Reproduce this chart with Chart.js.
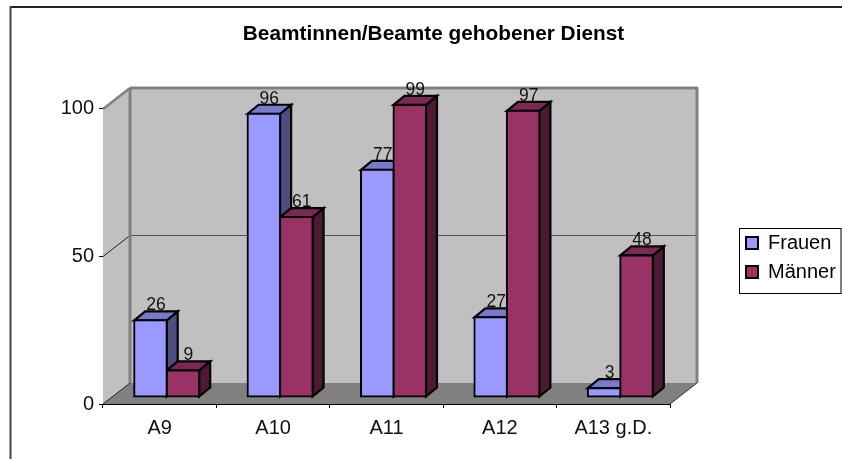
<!DOCTYPE html>
<html><head><meta charset="utf-8">
<style>html,body{margin:0;padding:0;background:#fff}#w{width:842px;height:459px;position:relative}</style>
<script src="https://cdn.jsdelivr.net/npm/chart.js@4"></script>
</head><body><div id="w"><canvas id="c" width="842" height="459"></canvas></div>
<script>
const categories = ['A9','A10','A11','A12','A13 g.D.'];
const frauen = [26,96,77,27,3];
const maenner = [9,61,99,97,48];
const yTicks = [0,50,100];
const chartTitle = 'Beamtinnen/Beamte gehobener Dienst';

const WALL_DX = 27, WALL_DY = 21;      // depth of the chart box
const BAR_SHIFT_X = 7, BAR_SHIFT_Y = -7; // bars stand inside the floor
const BAR_DX = 11, BAR_DY = 9;         // depth of each bar
const FONT = '"Liberation Sans", Arial, sans-serif';
const faces = {
  Frauen: {side:'#4D4D80', top:'#7A7ACC'},
  'Männer': {side:'#4D1A33', top:'#7A2952'}
};

function poly(ctx, pts, fill, stroke, lw){
  ctx.beginPath();
  pts.forEach((p,i)=> i ? ctx.lineTo(p[0],p[1]) : ctx.moveTo(p[0],p[1]));
  ctx.closePath();
  if(fill){ctx.fillStyle=fill;ctx.fill();}
  if(stroke){ctx.strokeStyle=stroke;ctx.lineWidth=lw;ctx.lineJoin='miter';ctx.stroke();}
}
function seg(ctx,x1,y1,x2,y2,c,lw){
  ctx.beginPath();ctx.moveTo(x1,y1);ctx.lineTo(x2,y2);ctx.strokeStyle=c;ctx.lineWidth=lw;ctx.stroke();
}

const box3d = {
  id:'box3d',
  afterLayout(chart){
    const lg = chart.legend;
    lg.left = 737; lg.right = 842; lg.top = 224; lg.bottom = 300;
    const t = chart.titleBlock;
    t.left = 25; t.right = 842;
  },
  beforeDatasetsDraw(chart){
    const ctx = chart.ctx, x = chart.scales.x, y = chart.scales.y;
    const L=x.left,R=x.right,T=y.getPixelForValue(100),B=y.getPixelForValue(0);
    const d=WALL_DX,e=WALL_DY;
    ctx.save();
    // frame
    seg(ctx,10.5,7,842,7,'#222',2);
    seg(ctx,10.5,6,10.5,459,'#444',2);
    // left wall, back wall, floor
    poly(ctx,[[L,T],[L+d,T-e],[L+d,B-e],[L,B]],'#C0C0C0');
    poly(ctx,[[L+d,T-e],[R+d,T-e],[R+d,B-e],[L+d,B-e]],'#C0C0C0');
    poly(ctx,[[L,B],[R,B],[R+d,B-e],[L+d,B-e]],'#808080');
    // grid lines
    y.ticks.forEach(tk=>{
      if(tk.value>0 && tk.value<100){
        const p=Math.round(y.getPixelForValue(tk.value))+0.5;
        seg(ctx,L,p,L+d,p-e,'#222',1);
        seg(ctx,L+d,p-e,R+d,p-e,'#555',1);
      }
    });
    // wall edges
    seg(ctx,L+d,T-e,L+d,B-e,'#808080',3);
    seg(ctx,R+d,T-e-1,R+d,B-e,'#808080',3);
    seg(ctx,L+d,T-e,R+d,T-e,'#808080',3);
    seg(ctx,L,T,L+d,T-e,'#808080',2.5);
    seg(ctx,L,B,L+d,B-e,'#222',1);
    seg(ctx,R,B,R+d,B-e,'#333',1);
    // side and top faces of every bar, behind all front faces
    ctx.translate(BAR_SHIFT_X,BAR_SHIFT_Y);
    chart.data.datasets.forEach((ds,i)=>{
      const f=faces[ds.label];
      chart.getDatasetMeta(i).data.forEach(b=>{
        const l=b.x-b.width/2, r=b.x+b.width/2;
        poly(ctx,[[r,b.y],[r+BAR_DX,b.y-BAR_DY],[r+BAR_DX,b.base-BAR_DY],[r,b.base]],f.side,'#000',2.2);
        poly(ctx,[[l,b.y],[l+BAR_DX,b.y-BAR_DY],[r+BAR_DX,b.y-BAR_DY],[r,b.y]],f.top,'#000',2.2);
      });
    });
    ctx.restore();
  },
  beforeDatasetDraw(chart){
    chart.ctx.save();
    chart.ctx.translate(BAR_SHIFT_X,BAR_SHIFT_Y);
  },
  afterDatasetDraw(chart){ chart.ctx.restore(); },
  afterDatasetsDraw(chart){
    const ctx=chart.ctx;
    ctx.save();
    ctx.font='17.5px '+FONT;
    ctx.fillStyle='#111';
    ctx.textAlign='center';
    ctx.textBaseline='alphabetic';
    chart.data.datasets.forEach((ds,i)=>{
      chart.getDatasetMeta(i).data.forEach((b,j)=>{
        ctx.fillText(String(ds.data[j]), b.x+BAR_SHIFT_X+BAR_DX/2, b.y+BAR_SHIFT_Y-BAR_DY-1);
      });
    });
    ctx.restore();
  },
  afterDraw(chart){
    const ctx=chart.ctx;
    ctx.save();
    ctx.strokeStyle='#000';ctx.lineWidth=1;
    ctx.strokeRect(739.5,228.5,101.5,65);
    ctx.restore();
  }
};

new Chart(document.getElementById('c'),{
  type:'bar',
  data:{labels:categories,datasets:[
    {label:'Frauen',data:frauen,backgroundColor:'#9999FF',borderColor:'#000',borderWidth:2,borderSkipped:false,inflateAmount:1,clip:false},
    {label:'Männer',data:maenner,backgroundColor:'#993366',borderColor:'#000',borderWidth:2,borderSkipped:false,inflateAmount:1,clip:false}
  ]},
  options:{
    responsive:false,animation:false,
    devicePixelRatio:1,
    layout:{padding:{left:0,right:172,top:0,bottom:0}},
    categoryPercentage:0.573,barPercentage:1,
    plugins:{
      tooltip:{enabled:false},
      title:{display:true,text:chartTitle,color:'#000',font:{family:FONT,size:20.8,weight:'bold',lineHeight:1.2},
        padding:{top:22,bottom:62}},
      legend:{display:true,position:'chartArea',align:'start',
        labels:{boxWidth:12,boxHeight:12,color:'#000',padding:9,font:{family:FONT,size:20,lineHeight:1.2}}}
    },
    scales:{
      x:{
        afterFit(s){s.height=55;},
        grid:{display:true,drawOnChartArea:false,drawTicks:true,tickLength:4,color:'#000',offset:true},
        border:{display:true,color:'#000',width:1},
        ticks:{color:'#111',padding:8,maxRotation:0,font:{family:FONT,size:20,lineHeight:1.2}}
      },
      y:{
        min:0,max:100,
        afterFit(s){s.width=103;},
        afterBuildTicks(s){s.ticks=yTicks.map(v=>({value:v}));},
        grid:{display:true,drawOnChartArea:false,drawTicks:true,tickLength:4,color:'#000'},
        border:{display:true,color:'#000',width:1},
        ticks:{color:'#111',padding:5,font:{family:FONT,size:20,lineHeight:1.2}}
      }
    }
  },
  plugins:[box3d]
});
</script></body></html>
